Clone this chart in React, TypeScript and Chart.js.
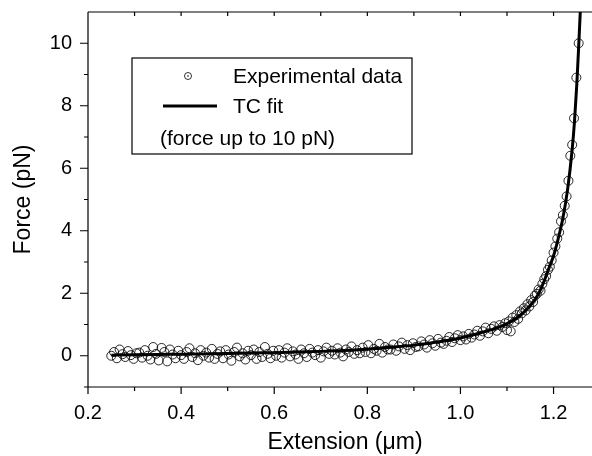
import React, { useEffect, useRef } from "react";
import { Chart, registerables } from "chart.js";

Chart.register(...registerables);

const xTicks = [0.2, 0.4, 0.6, 0.8, 1.0, 1.2];
const xMinorTicks = [0.3, 0.5, 0.7, 0.9, 1.1];
const yTicks = [0, 2, 4, 6, 8, 10];
const yMinorTicks = [-1, 1, 3, 5, 7, 9];

const xTitle = "Extension (\u03bcm)";
const yTitle = "Force (pN)";
const legendLabels = ["Experimental data", "TC fit", "(force up to 10 pN)"];

const fitX = [0.25, 0.3, 0.35, 0.4, 0.45, 0.5, 0.55, 0.6, 0.65, 0.7, 0.75, 0.8, 0.85, 0.9, 0.95, 1.0, 1.04, 1.08, 1.1, 1.12, 1.14, 1.16, 1.17, 1.18, 1.19, 1.2, 1.21, 1.22, 1.23, 1.24, 1.245, 1.25, 1.254, 1.258];
const fitY = [0.02, 0.03, 0.04, 0.05, 0.06, 0.07, 0.09, 0.1, 0.12, 0.14, 0.17, 0.21, 0.27, 0.34, 0.44, 0.57, 0.72, 0.9, 1.03, 1.2, 1.45, 1.8, 2.05, 2.4, 2.8, 3.2, 3.75, 4.4, 5.3, 6.6, 7.5, 8.7, 9.9, 11.2];

const expX = [
  0.250, 0.256, 0.262, 0.268, 0.274, 0.280, 0.286, 0.292, 0.298, 0.304,
  0.310, 0.316, 0.322, 0.328, 0.334, 0.340, 0.346, 0.352, 0.358, 0.364,
  0.370, 0.376, 0.382, 0.388, 0.394, 0.400, 0.406, 0.412, 0.418, 0.424,
  0.430, 0.436, 0.442, 0.448, 0.454, 0.460, 0.466, 0.472, 0.478, 0.484,
  0.490, 0.496, 0.502, 0.508, 0.514, 0.520, 0.526, 0.532, 0.538, 0.544,
  0.550, 0.556, 0.562, 0.568, 0.574, 0.580, 0.586, 0.592, 0.598, 0.604,
  0.610, 0.616, 0.622, 0.628, 0.634, 0.640, 0.646, 0.652, 0.658, 0.664,
  0.670, 0.676, 0.682, 0.688, 0.694, 0.700, 0.706, 0.712, 0.718, 0.724,
  0.730, 0.736, 0.742, 0.748, 0.754, 0.760, 0.766, 0.772, 0.778, 0.784,
  0.790, 0.796, 0.802, 0.808, 0.814, 0.820, 0.826, 0.832, 0.838, 0.844,
  0.850, 0.856, 0.862, 0.868, 0.874, 0.880, 0.886, 0.892, 0.898, 0.904,
  0.910, 0.916, 0.922, 0.928, 0.934, 0.940, 0.946, 0.952, 0.958, 0.964,
  0.970, 0.976, 0.982, 0.988, 0.994, 1.000, 1.006, 1.012, 1.018, 1.024,
  1.030, 1.036, 1.042, 1.048, 1.054, 1.060, 1.066, 1.072, 1.078, 1.084,
  1.090, 1.096,
  1.100, 1.104, 1.108, 1.112, 1.116, 1.120, 1.124, 1.128, 1.132, 1.136,
  1.140, 1.144, 1.148, 1.152, 1.156, 1.160, 1.164, 1.168, 1.172, 1.176,
  1.180, 1.184, 1.188, 1.192, 1.196, 1.200, 1.204, 1.208, 1.212, 1.216,
  1.220, 1.224, 1.228, 1.232, 1.236, 1.240, 1.244, 1.249, 1.254
];
const expY = [
  0.00, 0.12, -0.08, 0.20, 0.05, -0.04, 0.15, 0.02, -0.10, 0.08,
  0.10, -0.06, 0.18, 0.00, -0.12, 0.28, 0.06, -0.15, 0.25, 0.12,
  -0.18, 0.20, 0.04, -0.08, 0.16, 0.02, -0.10, 0.12, 0.24, -0.04,
  0.08, -0.14, 0.18, 0.00, 0.10, -0.06, 0.22, -0.10, 0.06, 0.14,
  -0.08, 0.18, 0.04, -0.16, 0.12, 0.26, -0.02, 0.08, -0.12, 0.16,
  0.02, 0.20, -0.10, 0.12, -0.04, 0.28, 0.06, -0.08, 0.16, 0.00,
  0.18, -0.06, 0.10, 0.24, -0.02, 0.14, 0.04, -0.10, 0.20, 0.08,
  -0.04, 0.22, 0.10, 0.02, 0.18, -0.06, 0.14, 0.26, 0.06, 0.16,
  0.04, 0.24, 0.10, -0.02, 0.20, 0.12, 0.30, 0.06, 0.18, 0.08,
  0.26, 0.12, 0.34, 0.08, 0.22, 0.16, 0.38, 0.10, 0.28, 0.20,
  0.20, 0.36, 0.16, 0.30, 0.42, 0.22, 0.34, 0.18, 0.40, 0.28,
  0.30, 0.46, 0.36, 0.26, 0.50, 0.40, 0.32, 0.54, 0.42, 0.38,
  0.48, 0.60, 0.44, 0.56, 0.66, 0.50, 0.62, 0.52, 0.70, 0.58,
  0.68, 0.80, 0.64, 0.78, 0.90, 0.72, 0.86, 0.94, 0.80, 0.98,
  0.92, 1.04,
  0.82, 1.10, 0.78, 1.22, 1.08, 1.30, 1.18, 1.42, 1.36, 1.52,
  1.45, 1.65, 1.58, 1.78, 1.72, 1.92, 1.98, 2.12, 2.08, 2.30,
  2.45, 2.55, 2.75, 2.85, 3.05, 3.30, 3.50, 3.75, 3.95, 4.30,
  4.50, 4.80, 5.10, 5.60, 6.40, 6.75, 7.60, 8.90, 10.00
];

const FONT = "'Liberation Sans', Arial, Helvetica, sans-serif";

const framePlugin = {
  id: "frame",
  afterDraw(chart: any) {
    const ctx = chart.ctx;
    const { left, top, bottom } = chart.chartArea;
    const right = chart.width;
    const xs = chart.scales.x;
    const ys = chart.scales.y;
    ctx.save();
    ctx.strokeStyle = "#000";
    ctx.lineWidth = 1.2;
    ctx.beginPath();
    ctx.moveTo(left, top);
    ctx.lineTo(left, bottom);
    ctx.lineTo(right, bottom);
    ctx.moveTo(left, top);
    ctx.lineTo(right, top);
    yTicks.forEach((v) => {
      const p = ys.getPixelForValue(v);
      ctx.moveTo(left, p);
      ctx.lineTo(left - 8, p);
    });
    yMinorTicks.forEach((v) => {
      const p = ys.getPixelForValue(v);
      ctx.moveTo(left, p);
      ctx.lineTo(left - 4, p);
    });
    xTicks.forEach((v) => {
      const p = xs.getPixelForValue(v);
      ctx.moveTo(p, bottom);
      ctx.lineTo(p, bottom + 7);
    });
    xMinorTicks.forEach((v) => {
      const p = xs.getPixelForValue(v);
      ctx.moveTo(p, bottom);
      ctx.lineTo(p, bottom + 4);
    });
    [...xTicks, ...xMinorTicks].forEach((v) => {
      const p = xs.getPixelForValue(v);
      ctx.moveTo(p, top);
      ctx.lineTo(p, top + 4);
    });
    ctx.stroke();

    ctx.fillStyle = "#000";
    ctx.font = `23px ${FONT}`;
    ctx.textAlign = "center";
    ctx.textBaseline = "middle";
    ctx.fillText(xTitle, 345, 443);
    ctx.save();
    ctx.translate(24, (top + bottom) / 2);
    ctx.rotate(-Math.PI / 2);
    ctx.fillText(yTitle, 0, 0);
    ctx.restore();

    ctx.lineWidth = 1.2;
    ctx.strokeRect(132, 58, 280, 96);
    ctx.beginPath();
    ctx.arc(188, 76, 3.5, 0, Math.PI * 2);
    ctx.lineWidth = 0.8;
    ctx.stroke();
    ctx.beginPath();
    ctx.arc(188, 76, 0.8, 0, Math.PI * 2);
    ctx.fill();
    ctx.beginPath();
    ctx.lineWidth = 3;
    ctx.moveTo(163, 106);
    ctx.lineTo(217, 106);
    ctx.stroke();
    ctx.font = `21px ${FONT}`;
    ctx.textAlign = "left";
    ctx.textBaseline = "alphabetic";
    ctx.fillText(legendLabels[0], 233, 83);
    ctx.fillText(legendLabels[1], 233, 113);
    ctx.fillText(legendLabels[2], 160, 145);
    ctx.restore();
  },
};

export default function App() {
  const ref = useRef<HTMLCanvasElement>(null);
  useEffect(() => {
    if (!ref.current) return;
    const fitData = fitX.map((x, i) => ({ x, y: fitY[i] }));
    const expData = expX.map((x, i) => ({ x, y: expY[i] }));
    const chart = new Chart(ref.current, {
      type: "scatter",
      data: {
        datasets: [
          {
            label: legendLabels[1],
            data: fitData,
            showLine: true,
            borderColor: "#000",
            borderWidth: 3,
            pointRadius: 0,
            cubicInterpolationMode: "monotone",
            order: 0,
          } as any,
          {
            label: legendLabels[0],
            data: expData,
            pointRadius: 4.5,
            pointBorderWidth: 0.9,
            borderColor: "#111",
            backgroundColor: "rgba(0,0,0,0)",
            pointBackgroundColor: "rgba(0,0,0,0)",
            pointBorderColor: "#111",
            order: 1,
          } as any,
        ],
      },
      options: {
        animation: false,
        responsive: false,
        layout: { padding: { top: 12, right: 0, left: 0, bottom: 0 } },
        plugins: { legend: { display: false }, tooltip: { enabled: false } },
        scales: {
          x: {
            type: "linear",
            min: 0.2,
            max: 1.271,
            afterBuildTicks: (s: any) => {
              s.ticks = xTicks.map((v) => ({ value: v }));
            },
            afterFit: (s: any) => {
              s.height = 69;
            },
            ticks: {
              color: "#000",
              font: { family: FONT, size: 20 },
              padding: 0,
              maxRotation: 0,
              autoSkip: false,
              callback: (v: any) => Number(v).toFixed(1),
            },
            grid: { display: true, drawOnChartArea: false, drawTicks: true, tickLength: 14, color: "rgba(0,0,0,0)" },
            border: { display: false },
          },
          y: {
            type: "linear",
            min: -1,
            max: 11,
            afterBuildTicks: (s: any) => {
              s.ticks = yTicks.map((v) => ({ value: v }));
            },
            afterFit: (s: any) => {
              s.width = 88;
            },
            ticks: {
              color: "#000",
              font: { family: FONT, size: 20 },
              padding: 0,
              autoSkip: false,
              callback: (v: any) => String(v),
            },
            grid: { display: true, drawOnChartArea: false, drawTicks: true, tickLength: 16, color: "rgba(0,0,0,0)" },
            border: { display: false },
          },
        },
      },
      plugins: [framePlugin],
    });
    return () => chart.destroy();
  }, []);
  return (
    <div style={{ position: "absolute", left: 0, top: 0, width: 592, height: 456, background: "#fff" }}>
      <canvas ref={ref} width={592} height={456} style={{ display: "block" }} />
    </div>
  );
}
